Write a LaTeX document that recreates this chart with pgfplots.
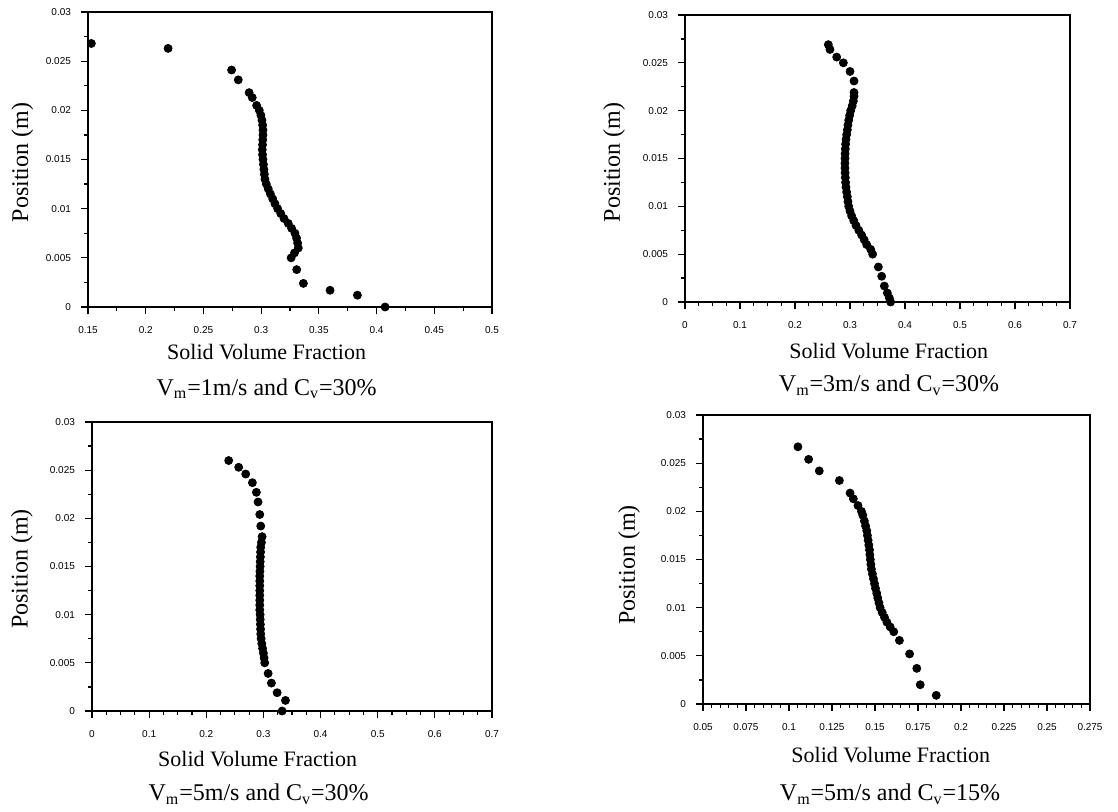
\documentclass[border=0pt]{standalone}
\usepackage{fontspec}
\setmainfont{Liberation Serif}
\newfontfamily\tickfont{Liberation Sans}
\usepackage{pgfplots}
\pgfplotsset{compat=1.18}

\pgfplotsset{
  profile/.style={
    scale only axis,
    clip=false,
    ymin=0, ymax=0.03,
    ytick={0,0.005,0.01,0.015,0.02,0.025,0.03},
    minor y tick num=1,
    scaled x ticks=false, scaled y ticks=false,
    tick pos=left,
    tick align=outside,
    major tick length=3.5pt,
    minor tick length=1.8pt,
    tick style={black, line width=0.6pt},
    axis line style={black, line width=0.9pt},
    ticklabel style={font=\tickfont\fontsize{5}{6}\selectfont, text=black},
    /pgf/number format/assume math mode=true,
    /pgf/number format/fixed,
    /pgf/number format/precision=3,
    yticklabel style={xshift=-1.5pt},
    xticklabel style={yshift=-2.5pt},
  },
  dots/.style={only marks, mark=*, mark size=2pt, black, mark options={fill=black, draw=black}},
}

\begin{document}
\begin{tikzpicture}
\useasboundingbox (0,0) rectangle (559pt,405.5pt);

% Vm = 1 m/s, Cv = 30%
\begin{axis}[profile, at={(44pt,252pt)}, anchor=south west,
  width=202pt, height=147.5pt,
  xmin=0.15, xmax=0.5, xtick={0.15,0.2,0.25,0.3,0.35,0.4,0.45,0.5},
  minor x tick num=1]
\addplot[dots] table {
x y
0.1529 0.0268
0.2194 0.0263
0.2744 0.0241
0.2802 0.0231
0.2896 0.0218
0.2923 0.0213
0.2961 0.0205
0.2984 0.0200
0.2998 0.0195
0.3007 0.0190
0.3013 0.0185
0.3016 0.0180
0.3016 0.0175
0.3014 0.0170
0.3012 0.0165
0.3010 0.0160
0.3012 0.0155
0.3016 0.0150
0.3020 0.0145
0.3024 0.0140
0.3028 0.0135
0.3033 0.0130
0.3045 0.0125
0.3062 0.0120
0.3080 0.0115
0.3100 0.0110
0.3120 0.0105
0.3143 0.0100
0.3170 0.0095
0.3198 0.0090
0.3235 0.0085
0.3264 0.0080
0.3293 0.0075
0.3307 0.0070
0.3316 0.0065
0.3322 0.0060
0.3289 0.0055
0.3260 0.0050
0.3308 0.0038
0.3366 0.0024
0.3597 0.0017
0.3834 0.0012
0.4074 0.0000
};
\end{axis}

% Vm = 3 m/s, Cv = 30%
\begin{axis}[profile, at={(342.5pt,254.5pt)}, anchor=south west,
  width=192.5pt, height=143.5pt,
  xmin=0, xmax=0.7, xtick={0,0.1,0.2,0.3,0.4,0.5,0.6,0.7},
  minor x tick num=3]
\addplot[dots] table {
x y
0.2606 0.0269
0.2636 0.0264
0.2758 0.0256
0.2879 0.0250
0.3000 0.0241
0.3073 0.0231
0.3073 0.0219
0.3073 0.0215
0.3061 0.0210
0.3040 0.0205
0.3012 0.0200
0.2993 0.0195
0.2976 0.0190
0.2963 0.0185
0.2952 0.0180
0.2939 0.0175
0.2927 0.0170
0.2920 0.0165
0.2915 0.0160
0.2911 0.0155
0.2909 0.0150
0.2908 0.0145
0.2909 0.0140
0.2911 0.0135
0.2915 0.0130
0.2920 0.0125
0.2927 0.0120
0.2939 0.0115
0.2952 0.0110
0.2963 0.0105
0.2976 0.0100
0.3000 0.0095
0.3030 0.0090
0.3068 0.0085
0.3109 0.0080
0.3160 0.0075
0.3212 0.0070
0.3258 0.0065
0.3303 0.0060
0.3376 0.0055
0.3412 0.0050
0.3515 0.00366
0.3576 0.00269
0.3624 0.00167
0.3679 0.00094
0.3715 0.00042
0.3739 0.0000
};
\end{axis}

% Vm = 5 m/s, Cv = 30%
\begin{axis}[profile, at={(46pt,50pt)}, anchor=south west,
  width=200pt, height=144.5pt,
  xmin=0, xmax=0.7, xtick={0,0.1,0.2,0.3,0.4,0.5,0.6,0.7},
  minor x tick num=3]
\addplot[dots] table {
x y
0.2392 0.0260
0.2567 0.0253
0.2690 0.0246
0.2807 0.0237
0.2877 0.0227
0.2906 0.0217
0.2936 0.0204
0.2953 0.0192
0.2977 0.0181
0.2965 0.0175
0.2953 0.0170
0.2950 0.0165
0.2947 0.0160
0.2944 0.0155
0.2942 0.0150
0.2939 0.0145
0.2936 0.0140
0.2936 0.0135
0.2936 0.0130
0.2936 0.0125
0.2936 0.0120
0.2936 0.0115
0.2936 0.0110
0.2936 0.0105
0.2942 0.0100
0.2944 0.0095
0.2947 0.0090
0.2950 0.0085
0.2953 0.0080
0.2960 0.0075
0.2971 0.0070
0.2985 0.0065
0.3000 0.0060
0.3012 0.0055
0.3023 0.0050
0.3082 0.0039
0.3140 0.0029
0.3240 0.0019
0.3386 0.0011
0.3327 0.0000
};
\end{axis}

% Vm = 5 m/s, Cv = 15%
\begin{axis}[profile, at={(351.5pt,53.5pt)}, anchor=south west,
  width=193.5pt, height=144.5pt,
  xmin=0.05, xmax=0.275,
  xtick={0.05,0.075,0.1,0.125,0.15,0.175,0.2,0.225,0.25,0.275},
  minor x tick num=4]
\addplot[dots] table {
x y
0.1052 0.0267
0.1114 0.0254
0.1176 0.0242
0.1293 0.0232
0.1355 0.0219
0.1374 0.0213
0.1401 0.0206
0.1421 0.0200
0.1429 0.0196
0.1438 0.0190
0.1445 0.0185
0.1452 0.0180
0.1456 0.0175
0.1460 0.0170
0.1464 0.0165
0.1468 0.0160
0.1470 0.0155
0.1473 0.0150
0.1476 0.0145
0.1479 0.0140
0.1485 0.0135
0.1491 0.0130
0.1497 0.0125
0.1503 0.0120
0.1510 0.0115
0.1516 0.0110
0.1523 0.0105
0.1530 0.0100
0.1542 0.0095
0.1555 0.0090
0.1569 0.0085
0.1588 0.0080
0.1609 0.0075
0.1642 0.0066
0.1701 0.0052
0.1743 0.0037
0.1763 0.0020
0.1856 0.0009
};
\end{axis}

% axis titles and case captions
\begin{scope}[every node/.style={inner sep=0pt}]
\node[rotate=90, font=\fontsize{12}{14}\selectfont] at (11.2pt,324.3pt) {Position (m)};
\node[rotate=90, font=\fontsize{12}{14}\selectfont] at (307pt,324.3pt) {Position (m)};
\node[rotate=90, font=\fontsize{12}{14}\selectfont] at (10.9pt,121pt) {Position (m)};
\node[rotate=90, font=\fontsize{12}{14}\selectfont] at (314.5pt,123pt) {Position (m)};

\node[anchor=base, font=\fontsize{11}{13}\selectfont] at (133.3pt,226pt) {Solid Volume Fraction};
\node[anchor=base, font=\fontsize{12}{14}\selectfont] at (133.3pt,208pt) {V\textsubscript{m}=1m/s and C\textsubscript{v}=30\%};
\node[anchor=base, font=\fontsize{11}{13}\selectfont] at (444.4pt,226.5pt) {Solid Volume Fraction};
\node[anchor=base, font=\fontsize{12}{14}\selectfont] at (444.5pt,209.8pt) {V\textsubscript{m}=3m/s and C\textsubscript{v}=30\%};
\node[anchor=base, font=\fontsize{11}{13}\selectfont] at (128.8pt,22.2pt) {Solid Volume Fraction};
\node[anchor=base, font=\fontsize{12}{14}\selectfont] at (129.3pt,5.3pt) {V\textsubscript{m}=5m/s and C\textsubscript{v}=30\%};
\node[anchor=base, font=\fontsize{11}{13}\selectfont] at (445.4pt,24.5pt) {Solid Volume Fraction};
\node[anchor=base, font=\fontsize{12}{14}\selectfont] at (445pt,5.3pt) {V\textsubscript{m}=5m/s and C\textsubscript{v}=15\%};
\end{scope}
\end{tikzpicture}
\end{document}
